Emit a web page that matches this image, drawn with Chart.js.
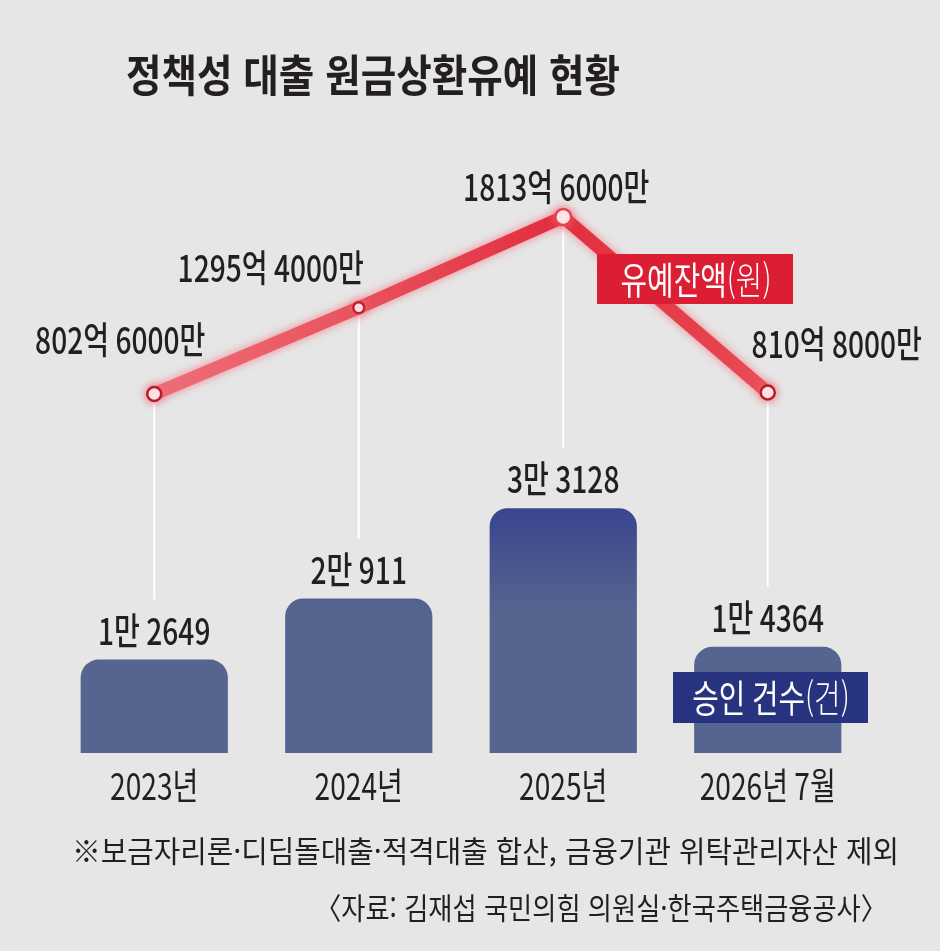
<!DOCTYPE html>
<html lang="ko">
<head>
<meta charset="utf-8">
<script src="https://cdn.jsdelivr.net/npm/chart.js@4.4.1/dist/chart.umd.min.js"></script>
<style>
  html, body { margin: 0; padding: 0; background: #e6e6e6; }
  #wrap { position: relative; width: 940px; height: 951px; overflow: hidden; background: #e6e6e6; }
  #chart { position: absolute; left: 0; top: 0; }
  .txt { position: absolute; white-space: nowrap; font-family: "Noto Sans CJK KR", sans-serif;
         color: #231f20; transform-origin: left top; line-height: 1; }
</style>
</head>
<body>
<div id="wrap">
  <canvas id="chart" width="940" height="951"></canvas>
  <div class="txt" data-w="494" style="left:126px; top:51px; font-size:44px; font-weight:700;">정책성 대출 원금상환유예 현황</div>
  <div class="txt" data-w="827" style="left:72px; top:834px; font-size:30px;">※보금자리론·디딤돌대출·적격대출 합산, 금융기관 위탁관리자산 제외</div>
  <div class="txt" data-w="572" data-right="887" style="top:891px; font-size:30px;">〈자료: 김재섭 국민의힘 의원실·한국주택금융공사〉</div>
</div>
<script>
// data
const categories = ['2023년', '2024년', '2025년', '2026년 7월'];
const approvalCounts = [12649, 20911, 33128, 14364];     // 승인 건수(건)
const deferredBalance = [802.6, 1295.4, 1813.6, 810.8];  // 유예잔액(억 원)

// label offsets for the balance labels, relative to each point
const balanceLabelDx = [-34, -88, -7, 69];
const balanceLabelDy = [-54, -40, -30, -49];

const FONT = '"Noto Sans CJK KR", sans-serif';
const SX = 0.76; // condensed look
const LABEL_SIZE = 37;

// condensed HTML text: squeeze each line to its measured width
document.querySelectorAll('.txt').forEach(el => {
    const target = +el.dataset.w;
    const w = el.getBoundingClientRect().width;
    el.style.transform = `scaleX(${target / w})`;
    if (el.dataset.right) el.style.left = (+el.dataset.right - target) + 'px';
});

const fmtCount = v => Math.floor(v / 10000) + '만 ' + (v % 10000);
const fmtBalance = v => Math.floor(v) + '억 ' + Math.round((v - Math.floor(v)) * 10000) + '만';

function drawText(ctx, str, x, y, size, weight, color, align, sx) {
    ctx.save();
    ctx.font = `${weight} ${size}px ${FONT}`;
    ctx.fillStyle = color;
    ctx.textBaseline = 'middle';
    ctx.textAlign = 'left';
    const w = ctx.measureText(str).width * sx;
    const left = align === 'center' ? x - w / 2 : align === 'right' ? x - w : x;
    ctx.translate(left, y);
    ctx.scale(sx, 1);
    ctx.fillText(str, 0, 0);
    ctx.restore();
}

// text in two weights, centred as one
function drawParts(ctx, parts, cx, cy, size, color, sx) {
    let total = 0;
    const widths = parts.map(p => {
        ctx.font = `${p[1]} ${size}px ${FONT}`;
        const w = ctx.measureText(p[0]).width * sx;
        total += w;
        return w;
    });
    let x = cx - total / 2;
    parts.forEach((p, i) => { drawText(ctx, p[0], x, cy, size, p[1], color, 'left', sx); x += widths[i]; });
}

const decor = {
    id: 'decor',
    beforeDatasetsDraw(chart) {
        const { ctx, scales: { x, y, y1 } } = chart;
        // white connectors from the line points down towards the bar labels
        ctx.save();
        ctx.strokeStyle = '#ffffff';
        ctx.lineWidth = 2;
        categories.forEach((c, i) => {
            const px = x.getPixelForValue(i);
            ctx.beginPath();
            ctx.moveTo(px, y1.getPixelForValue(deferredBalance[i]));
            ctx.lineTo(px, y.getPixelForValue(approvalCounts[i]) - 60);
            ctx.stroke();
        });
        ctx.restore();
    },
    beforeDatasetDraw(chart, args) {
        if (args.index !== 1) return;
        const ctx = chart.ctx;
        ctx.save();
        ctx.shadowColor = 'rgba(242, 105, 115, 0.75)';
        ctx.shadowBlur = 10;
    },
    afterDatasetDraw(chart, args) {
        if (args.index !== 1) return;
        chart.ctx.restore();
    },
    afterDatasetsDraw(chart) {
        const { ctx, scales: { x, y, y1 } } = chart;
        categories.forEach((c, i) => {
            const px = x.getPixelForValue(i);
            // category label
            drawText(ctx, c, px, 786, LABEL_SIZE, 400, '#231f20', 'center', SX);
            // bar value
            drawText(ctx, fmtCount(approvalCounts[i]), px, y.getPixelForValue(approvalCounts[i]) - 29, LABEL_SIZE, 500, '#231f20', 'center', SX);
            // line value
            const py = y1.getPixelForValue(deferredBalance[i]);
            drawText(ctx, fmtBalance(deferredBalance[i]), px + balanceLabelDx[i], py + balanceLabelDy[i], LABEL_SIZE, 500, '#231f20', 'center', SX);
        });

        // series tags
        ctx.save();
        ctx.fillStyle = '#dc1e34';
        ctx.fillRect(597, 254, 196, 50);
        ctx.fillStyle = '#28337f';
        ctx.fillRect(673, 672, 195, 51);
        ctx.restore();
        drawParts(ctx, [['유예잔액', 400], ['(원)', 300]], 696, 280, 38, '#ffffff', SX);
        drawParts(ctx, [['승인 건수', 400], ['(건)', 300]], 771, 698, 38, '#ffffff', SX);
    }
};

new Chart(document.getElementById('chart'), {
    data: {
        labels: categories,
        datasets: [{
            type: 'bar',
            label: '승인 건수(건)',
            data: approvalCounts,
            yAxisID: 'y',
            order: 1,
            categoryPercentage: 1,
            barPercentage: 0.72,
            borderRadius: { topLeft: 18, topRight: 18, bottomLeft: 0, bottomRight: 0 },
            borderSkipped: false,
            backgroundColor: (c) => {
                const ys = c.chart.scales.y;
                if (!c.chart.chartArea || !ys) return '#56658f';
                const top = ys.getPixelForValue(33500), bottom = ys.getPixelForValue(19000);
                if (!isFinite(top) || !isFinite(bottom)) return '#56658f';
                const g = c.chart.ctx.createLinearGradient(0, top, 0, bottom);
                g.addColorStop(0, '#39448f');
                g.addColorStop(1, '#56658f');
                return g;
            }
        }, {
            type: 'line',
            label: '유예잔액(원)',
            data: deferredBalance,
            yAxisID: 'y1',
            order: 0,
            borderWidth: 13,
            borderJoinStyle: 'round',
            borderCapStyle: 'round',
            borderColor: (c) => {
                const area = c.chart.chartArea;
                if (!area) return '#e5404e';
                const g = c.chart.ctx.createLinearGradient(area.left, 0, area.right, 0);
                g.addColorStop(0, '#ef7c85');
                g.addColorStop(0.35, '#ea5560');
                g.addColorStop(0.62, '#e22e3e');
                g.addColorStop(0.82, '#e7434f');
                g.addColorStop(1, '#ee6e78');
                return g;
            },
            tension: 0,
            pointRadius: [7, 5.5, 8, 7],
            pointBorderWidth: 2.5,
            pointBackgroundColor: '#ffffff',
            pointBorderColor: ['#b81b2b', '#c41f2f', '#e8404f', '#b81b2b'],
            clip: false
        }]
    },
    options: {
        responsive: false,
        animation: false,
        devicePixelRatio: 1,
        layout: { padding: { left: 52, right: 70, top: 150, bottom: 198 } },
        plugins: { legend: { display: false }, tooltip: { enabled: false } },
        scales: {
            x: { display: false, offset: true, grid: { display: false } },
            y: { display: false, min: 0, max: 81600 },
            y1: { display: false, min: -1248, max: 2196 }
        }
    },
    plugins: [decor]
});
</script>
</body>
</html>
